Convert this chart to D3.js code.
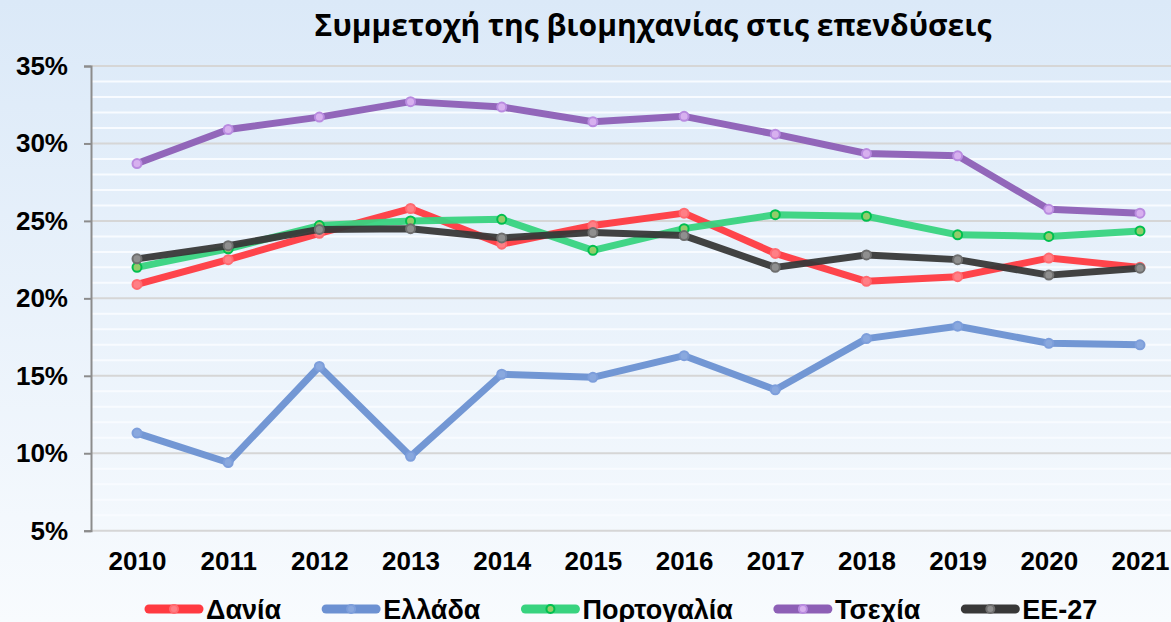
<!DOCTYPE html>
<html>
<head>
<meta charset="utf-8">
<script src="https://d3js.org/d3.v7.min.js"></script>
<style>
  body { margin: 0; overflow: hidden; }
  svg { display: block; }
</style>
</head>
<body>
<svg id="chart" width="1171" height="622"></svg>
<script>
// years on the x axis
var years = ["2010", "2011", "2012", "2013", "2014", "2015", "2016", "2017", "2018", "2019", "2020", "2021"];

// share of industry in investment, %
var dania      = [20.9, 22.5, 24.2, 25.8, 23.5, 24.7, 25.5, 22.9, 21.1, 21.4, 22.6, 22.0];
var ellada     = [11.3,  9.4, 15.6,  9.8, 15.1, 14.9, 16.3, 14.1, 17.4, 18.2, 17.1, 17.0];
var portogalia = [22.0, 23.2, 24.7, 25.0, 25.1, 23.1, 24.5, 25.4, 25.3, 24.1, 24.0, 24.35];
var tsexia     = [28.7, 30.9, 31.7, 32.7, 32.35, 31.4, 31.75, 30.6, 29.35, 29.2, 25.75, 25.5];
var ee27       = [22.55, 23.4, 24.45, 24.5, 23.9, 24.25, 24.05, 22.0, 22.8, 22.5, 21.5, 21.95];

var names = ["Δανία", "Ελλάδα", "Πορτογαλία", "Τσεχία", "ΕΕ-27"];
var yTicks = [5, 10, 15, 20, 25, 30, 35];

var series = [
  { name: names[0], values: dania,      color: "#ff3a41", dot: "#ff7f86", dotStroke: "#ff6a70" },
  { name: names[1], values: ellada,     color: "#6c91d2", dot: "#89a8de", dotStroke: "#7d9edb" },
  { name: names[2], values: portogalia, color: "#38d37f", dot: "#93cc6a", dotStroke: "#00bf4f" },
  { name: names[3], values: tsexia,     color: "#8d5fb6", dot: "#d7b0ef", dotStroke: "#b98be0" },
  { name: names[4], values: ee27,       color: "#383838", dot: "#8f8f8f", dotStroke: "#6e6e6e" }
];

var WIDTH = 1171, HEIGHT = 622;
var svg = d3.select("#chart");

// background gradient
var defs = svg.append("defs");
var grad = defs.append("linearGradient").attr("id", "bg")
  .attr("x1", 0).attr("y1", 0).attr("x2", 0).attr("y2", 1);
grad.append("stop").attr("offset", "0%").attr("stop-color", "#dbe9f8");
grad.append("stop").attr("offset", "100%").attr("stop-color", "#f8fbfe");
svg.append("rect").attr("width", WIDTH).attr("height", HEIGHT).attr("fill", "url(#bg)");

var xScale = d3.scalePoint().domain(years).range([137, 1140]);
var yScale = d3.scaleLinear().domain([5, 35]).range([530.7, 66]);
var plotLeft = 91, plotRight = WIDTH;

// minor gridlines every 1%
svg.append("g").selectAll("line")
  .data(d3.range(6, 35).filter(function(v) { return v % 5 != 0; }))
  .enter().append("line")
  .attr("x1", plotLeft).attr("x2", plotRight)
  .attr("y1", function(d) { return yScale(d); })
  .attr("y2", function(d) { return yScale(d); })
  .attr("stroke", "#f8fbff").attr("stroke-width", 2);

// major gridlines
svg.append("g").selectAll("line")
  .data(yTicks)
  .enter().append("line")
  .attr("x1", plotLeft).attr("x2", plotRight)
  .attr("y1", function(d) { return yScale(d); })
  .attr("y2", function(d) { return yScale(d); })
  .attr("stroke", "#d6d6d6").attr("stroke-width", 2);

// y axis
var yAxis = d3.axisLeft(yScale).tickValues(yTicks).tickSize(7).tickPadding(16)
  .tickFormat(function(d) { return d + "%"; });
var gy = svg.append("g").attr("transform", "translate(" + plotLeft + ",0)").call(yAxis);
gy.select(".domain").attr("stroke", "#8c8c8c").attr("stroke-width", 2);
gy.selectAll(".tick line").attr("stroke", "#8c8c8c").attr("stroke-width", 2);
gy.selectAll(".tick text")
  .style("font-family", "'Liberation Sans', Arial, sans-serif")
  .style("font-weight", "bold").style("font-size", "26px").attr("fill", "#000");

// x axis labels
var xAxis = d3.axisBottom(xScale).tickSize(0).tickPadding(0);
var gx = svg.append("g").attr("transform", "translate(0,552)").call(xAxis);
gx.select(".domain").remove();
gx.selectAll(".tick text")
  .attr("dy", "0.71em").attr("y", 0)
  .style("font-family", "'Liberation Sans', Arial, sans-serif")
  .style("font-weight", "bold").style("font-size", "26px").attr("fill", "#000");

// lines
var lineGen = d3.line()
  .x(function(d, i) { return xScale(years[i]); })
  .y(function(d) { return yScale(d); });

series.forEach(function(s) {
  var g = svg.append("g");
  g.append("path").attr("d", lineGen(s.values))
    .attr("fill", "none").attr("stroke", s.color).attr("stroke-width", 7)
    .attr("stroke-linejoin", "round").attr("stroke-linecap", "round")
    .attr("opacity", 0.95);
  g.selectAll("circle").data(s.values).enter().append("circle")
    .attr("cx", function(d, i) { return xScale(years[i]); })
    .attr("cy", function(d) { return yScale(d); })
    .attr("r", 4.5)
    .attr("fill", s.dot).attr("stroke", s.dotStroke).attr("stroke-width", 2);
});

// title
svg.append("text")
  .attr("x", 653).attr("y", 36)
  .attr("text-anchor", "middle")
  .style("font-family", "'Open Sans', 'Noto Sans', sans-serif")
  .style("font-weight", "bold").style("font-size", "30px")
  .text("Συμμετοχή της βιομηχανίας στις επενδύσεις");

// legend (text runs past the bottom edge, as in the original)
var legend = svg.append("g");
var lx = 145, ly = 609;
series.forEach(function(s) {
  var item = legend.append("g");
  item.append("line").attr("x1", lx + 4).attr("x2", lx + 54)
    .attr("y1", ly).attr("y2", ly)
    .attr("stroke", s.color).attr("stroke-width", 9).attr("stroke-linecap", "round");
  item.append("circle").attr("cx", lx + 29).attr("cy", ly).attr("r", 4)
    .attr("fill", s.dot).attr("stroke", s.dotStroke).attr("stroke-width", 2);
  var t = item.append("text").attr("x", lx + 61).attr("y", ly + 10)
    .style("font-family", "'Liberation Sans', Arial, sans-serif")
    .style("font-weight", "bold").style("font-size", "27px")
    .text(s.name);
  lx = lx + 61 + t.node().getComputedTextLength() + 41;
});
</script>
</body>
</html>
